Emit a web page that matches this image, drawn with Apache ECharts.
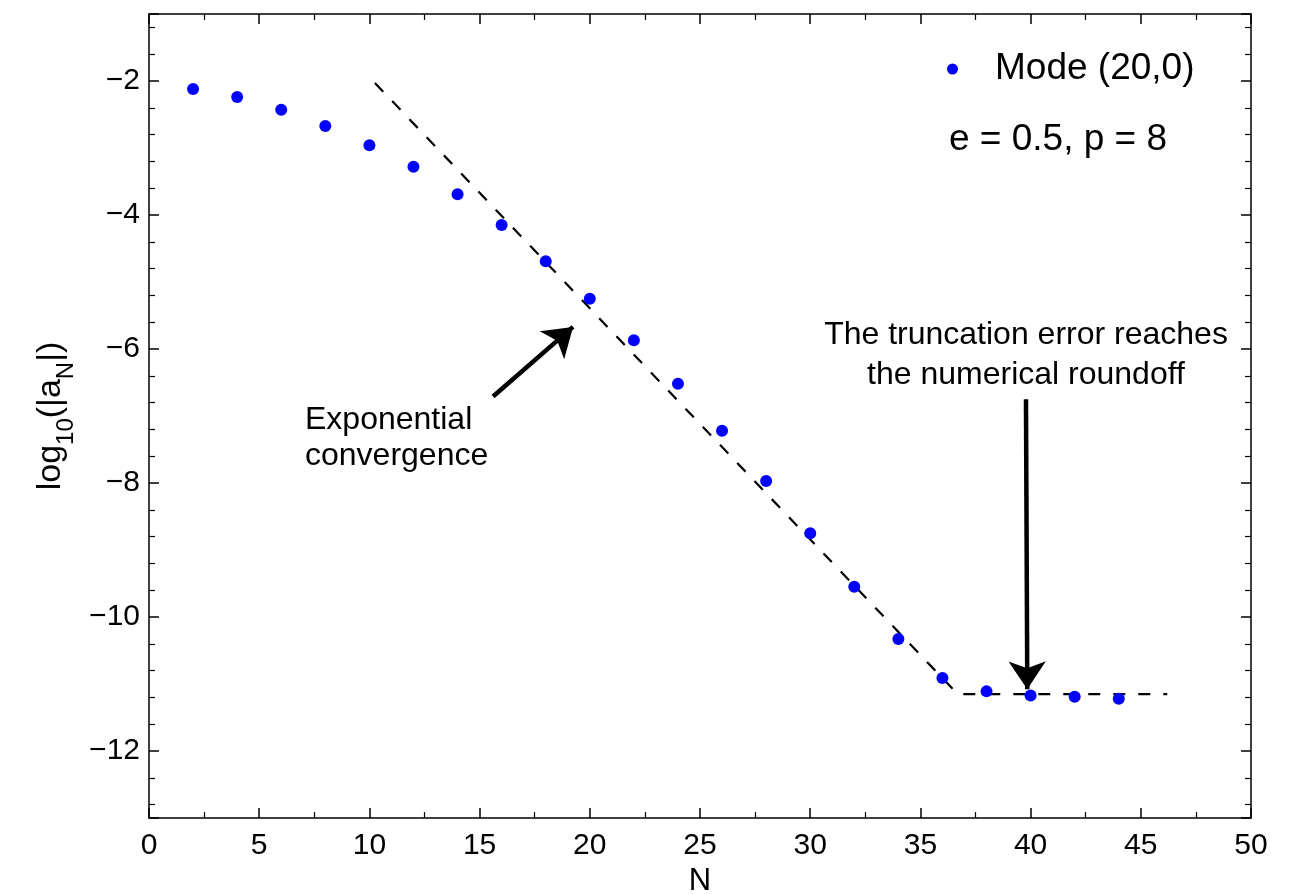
<!DOCTYPE html>
<html><head><meta charset="utf-8">
<script src="https://cdn.jsdelivr.net/npm/echarts@6/dist/echarts.min.js"></script>
<style>html,body{margin:0;padding:0;background:#fff}#c{width:1294px;height:895px}</style>
</head><body><div id="c"></div>
<script>
// ---- data ----
const N = [2,4,6,8,10,12,14,16,18,20,22,24,26,28,30,32,34,36,38,40,42,44];
const logA = [-2.12,-2.24,-2.43,-2.67,-2.96,-3.28,-3.69,-4.15,-4.69,-5.25,-5.87,-6.52,-7.22,-7.97,-8.75,-9.55,-10.33,-10.91,-11.11,-11.17,-11.19,-11.22];
const fitN = [10.25, 36.69, 46.2];
const fitY = [-2.03, -11.15, -11.15];
const arrowExp = [[15.61,-6.71],[19.24,-5.67]];
const arrowRound = [[39.79,-6.75],[39.85,-11.08]];
const xRange = [0, 50];
const yRange = [-13, -1];
const seriesName = 'Mode (20,0)';
const paramText = 'e = 0.5, p = 8';
const expText = 'Exponential\nconvergence';
const roundText = 'The truncation error reaches\nthe numerical roundoff';

const FONT = 'Liberation Sans';
const chart = echarts.init(document.getElementById('c'), null, {renderer:'canvas'});
const minus = v => (v < 0 ? '\u2212' + Math.abs(v) : String(v));

function xAx(pos, labels) {
  return {
    type:'value', position:pos, min:xRange[0], max:xRange[1], interval:5,
    axisLine:{show:true, onZero:false, lineStyle:{color:'#000', width:1.5}},
    axisTick:{show:true, inside:true, length:10, lineStyle:{color:'#000', width:1.5}},
    minorTick:{show:true, splitNumber:2, length:6, lineStyle:{color:'#000', width:1.2}},
    splitLine:{show:false},
    axisLabel:{show:labels, color:'#000', fontFamily:FONT, fontSize:30, margin:13, formatter:minus},
    name: labels ? 'N' : '', nameLocation:'middle', nameGap:48,
    nameTextStyle:{color:'#000', fontFamily:FONT, fontSize:31}
  };
}
function yAx(pos, labels) {
  return {
    type:'value', position:pos, min:yRange[0], max:yRange[1], splitNumber:6,
    axisLine:{show:true, onZero:false, lineStyle:{color:'#000', width:1.5}},
    axisTick:{show:true, inside:true, length:10, lineStyle:{color:'#000', width:1.5}},
    minorTick:{show:true, splitNumber:5, length:6, lineStyle:{color:'#000', width:1.2}},
    splitLine:{show:false},
    axisLabel:{show:labels, color:'#000', fontFamily:FONT, fontSize:30, margin:9,
      showMinLabel:false, showMaxLabel:false,
      formatter: v => (Math.abs(v % 2) === 0 ? minus(v) : '')},
    name: labels ? '{m|log}{s|10}{m|(|a}{s|N}{m||)}' : '',
    nameLocation:'middle', nameGap:76, nameRotate:90,
    nameTextStyle:{color:'#000', fontFamily:FONT, fontSize:34,
      rich:{
        m:{fontFamily:FONT, fontSize:34, color:'#000', lineHeight:38, verticalAlign:'top'},
        s:{fontFamily:FONT, fontSize:24, color:'#000', lineHeight:24, padding:[21,0,0,0], verticalAlign:'top'}
      }}
  };
}

chart.setOption({
  animation:false,
  backgroundColor:'#fff',
  grid:{left:149, right:43, top:14, bottom:77, containLabel:false, outerBoundsMode:'none'},
  xAxis:[xAx('bottom', true), xAx('top', false)],
  yAxis:[yAx('left', true), yAx('right', false)],
  legend:{
    data:[seriesName], left:947, top:50, padding:0, itemWidth:11, itemHeight:11, icon:'circle',
    textStyle:{color:'#000', fontFamily:FONT, fontSize:37, lineHeight:38, padding:[0,0,0,32]}
  },
  series:[
    {
      name:seriesName, type:'scatter', symbol:'circle', symbolSize:12,
      itemStyle:{color:'#0000ff', opacity:1},
      data: N.map((n,i)=>[n, logA[i]]),
      z:3,
      markLine:{
        silent:true, symbol:['none','arrow'], symbolSize:28,
        lineStyle:{color:'#000', width:4.5, type:'solid', opacity:1},
        label:{show:false},
        itemStyle:{color:'#000'},
        data:[
          [{coord:arrowExp[0]},{coord:arrowExp[1]}],
          [{coord:arrowRound[0]},{coord:arrowRound[1]}]
        ]
      }
    },
    {
      name:'fit', type:'line', symbol:'none', showSymbol:false,
      lineStyle:{color:'#000', width:2.2, type:[12,13]},
      data: fitN.map((n,i)=>[n, fitY[i]]),
      z:2
    }
  ],
  graphic:[
    {type:'text', x:949, y:140, style:{text:paramText, fill:'#000', font:'37px "Liberation Sans"', align:'left', verticalAlign:'middle'}},
    {type:'text', x:305, y:402, style:{text:expText, fill:'#000', font:'32px "Liberation Sans"', lineHeight:36, align:'left', verticalAlign:'top'}},
    {type:'text', x:1026, y:315, style:{text:roundText, fill:'#000', font:'32px "Liberation Sans"', lineHeight:40, align:'center', verticalAlign:'top'}}
  ]
});
</script></body></html>
